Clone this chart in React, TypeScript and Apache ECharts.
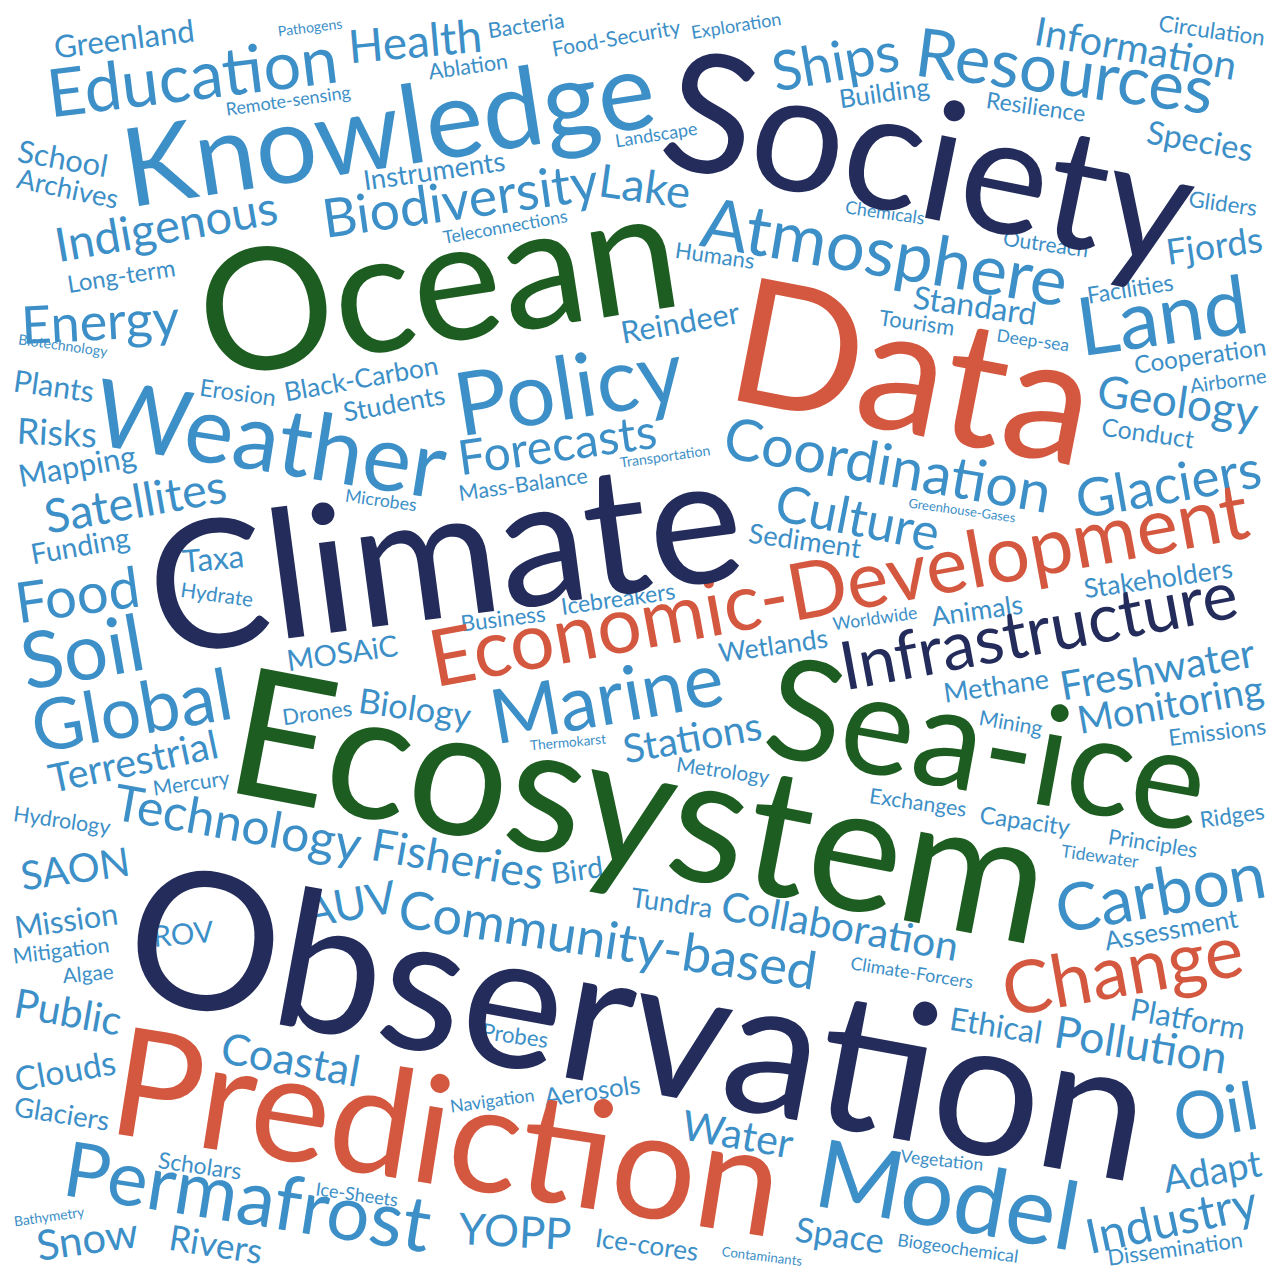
import React, { useEffect, useRef } from "react";
import * as echarts from "echarts";

// [word, centre x, centre y, word length along baseline, angle in degrees (counter-clockwise)]
type Row = [string, number, number, number, number];

const navyWords: Row[] = [
  ["Society", 930, 153, 535, -11.5],
  ["Climate", 444, 548, 597, 7.6],
  ["Observation", 640, 1016, 1035, -10.5],
  ["Infrastructure", 1038, 628, 403, 10.6],
];

const greenWords: Row[] = [
  ["Ocean", 437, 277, 483, 8.8],
  ["Ecosystem", 641, 800, 829, -10.8],
  ["Sea-ice", 988, 740, 445, -10.3],
];

const redWords: Row[] = [
  ["Data", 914, 366, 365, -11],
  ["Economic-Development", 838, 582, 831, 10.4],
  ["Prediction", 448, 1127, 676, -9],
  ["Change", 1122, 968, 243, 10],
];

const blueWords: Row[] = [
  ["Knowledge", 388, 125, 537, 8.8],
  ["Education", 192, 74, 292, 7],
  ["Health", 415, 40, 134, 5],
  ["Resources", 1065, 69, 300, -7.5],
  ["Information", 1136, 47, 204, -10],
  ["Ships", 835, 60, 128, 10],
  ["Atmosphere", 885, 250, 370, -9.5],
  ["Land", 1162, 313, 172, 8],
  ["Policy", 568, 385, 230, 9],
  ["Weather", 271, 436, 354, -9],
  ["Forecasts", 557, 443, 200, 8],
  ["Coordination", 888, 463, 331, -9.8],
  ["Culture", 858, 516, 166, -11],
  ["Geology", 1178, 400, 162, -8],
  ["Glaciers", 1168, 482, 187, 10],
  ["Marine", 606, 695, 235, 10],
  ["Stations", 692, 736, 140, 10],
  ["Freshwater", 1157, 668, 197, 10],
  ["Monitoring", 1170, 703, 188, 10],
  ["Carbon", 1160, 890, 212, 10],
  ["Pollution", 1141, 1043, 174, -9],
  ["Oil", 1215, 1110, 84, 10],
  ["Adapt", 1212, 1170, 99, 10],
  ["Industry", 1171, 1218, 174, 12],
  ["Model", 948, 1192, 265, -10],
  ["Permafrost", 248, 1194, 370, -9],
  ["Coastal", 291, 1058, 140, -10],
  ["Technology", 238, 822, 250, -10],
  ["Fisheries", 458, 858, 174, -10],
  ["Community-based", 608, 938, 422, -8.6],
  ["Collaboration", 840, 925, 240, -10],
  ["Global", 131, 708, 202, 10],
  ["Soil", 82, 650, 124, 10],
  ["Food", 77, 593, 125, 8],
  ["Terrestrial", 133, 760, 172, 12],
  ["Satellites", 135, 500, 184, 10],
  ["Indigenous", 166, 225, 225, 10],
  ["Biodiversity", 460, 198, 278, 8],
  ["Energy", 100, 320, 158, 3],
  ["Lake", 645, 185, 92, -8],
  ["Standard", 975, 305, 124, -8],
  ["Species", 1200, 140, 107, -10],
  ["Fjords", 1214, 245, 97, 8],
  ["SAON", 75, 868, 110, 8],
  ["Water", 738, 1133, 112, -10],
  ["YOPP", 515, 1230, 113, -3],
  ["Snow", 87, 1238, 102, 8],
  ["Public", 68, 1011, 108, -10],
  ["Clouds", 65, 1070, 102, 10],
  ["Mission", 66, 920, 104, 8],
  ["AUV", 350, 903, 93, 10],
  ["MOSAiC", 342, 652, 112, 8],
  ["Biology", 415, 707, 113, -8],
  ["Mapping", 77, 465, 119, 10],
  ["Risks", 57, 432, 80, -3],
  ["Plants", 54, 385, 81, -8],
  ["Funding", 80, 545, 100, 10],
  ["Taxa", 213, 558, 62, 5],
  ["Greenland", 124, 38, 141, 7],
  ["School", 63, 158, 91, -10],
  ["Archives", 68, 188, 103, -12],
  ["Long-term", 121, 275, 109, 9],
  ["Instruments", 434, 170, 143, 8],
  ["Reindeer", 680, 322, 120, 10],
  ["Black-Carbon", 361, 378, 156, 10],
  ["Students", 394, 403, 103, 10],
  ["Erosion", 238, 392, 77, -8],
  ["Microbes", 381, 500, 72, -8],
  ["Hydrate", 217, 594, 73, -8],
  ["Mass-Balance", 523, 484, 130, 8],
  ["Transportation", 665, 456, 91, 8],
  ["Business", 503, 618, 85, 7],
  ["Icebreakers", 618, 598, 115, 8],
  ["Sediment", 805, 540, 113, -8],
  ["Greenhouse-Gases", 962, 510, 108, -8],
  ["Tourism", 917, 322, 76, -8],
  ["Deep-sea", 1033, 340, 73, -8],
  ["Cooperation", 1200, 355, 133, 8],
  ["Airborne", 1228, 380, 77, 8],
  ["Conduct", 1148, 432, 93, -8],
  ["Stakeholders", 1158, 578, 150, 8],
  ["Animals", 977, 610, 92, 8],
  ["Worldwide", 875, 618, 85, 8],
  ["Wetlands", 773, 645, 110, 8],
  ["Thermokarst", 568, 742, 76, 5],
  ["Metrology", 723, 770, 94, -8],
  ["Methane", 996, 685, 106, 8],
  ["Mining", 1011, 722, 64, -10],
  ["Emissions", 1217, 731, 98, 7],
  ["Exchanges", 918, 802, 98, -8],
  ["Capacity", 1025, 820, 91, -8],
  ["Ridges", 1232, 815, 65, 8],
  ["Principles", 1153, 843, 90, -9],
  ["Tidewater", 1100, 856, 78, -8],
  ["Assessment", 1171, 929, 135, 10],
  ["Platform", 1188, 1018, 116, -10],
  ["Ethical", 996, 1025, 93, -9],
  ["Climate-Forcers", 912, 972, 124, -9],
  ["Dissemination", 1175, 1248, 136, 8],
  ["Vegetation", 942, 1160, 83, -6],
  ["Space", 840, 1234, 89, -8],
  ["Biogeochemical", 958, 1248, 122, -8],
  ["Contaminants", 762, 1256, 81, -7],
  ["Ice-cores", 647, 1244, 104, -8],
  ["Aerosols", 592, 1090, 97, 8],
  ["Navigation", 492, 1100, 85, 8],
  ["Probes", 515, 1035, 67, -8],
  ["Scholars", 200, 1165, 84, -8],
  ["Ice-Sheets", 357, 1194, 83, -8],
  ["Bathymetry", 49, 1216, 71, 8],
  ["Rivers", 216, 1243, 94, -9],
  ["Glaciers", 62, 1113, 96, -9],
  ["Algae", 88, 973, 51, 5],
  ["Mitigation", 61, 950, 97, 7],
  ["ROV", 183, 933, 61, 5],
  ["Hydrology", 62, 820, 98, -8],
  ["Mercury", 191, 782, 77, 8],
  ["Drones", 317, 712, 70, 8],
  ["Bird", 577, 869, 52, 8],
  ["Tundra", 672, 902, 82, -8],
  ["Humans", 715, 255, 80, -8],
  ["Chemicals", 885, 212, 80, -8],
  ["Outreach", 1046, 243, 86, -8],
  ["Facilities", 1130, 288, 87, 9],
  ["Gliders", 1223, 203, 69, -8],
  ["Circulation", 1212, 30, 107, -8],
  ["Resilience", 1036, 106, 100, -8],
  ["Building", 884, 92, 91, 8],
  ["Exploration", 736, 25, 91, 9],
  ["Food-Security", 616, 37, 130, 10],
  ["Bacteria", 526, 25, 77, 8],
  ["Ablation", 468, 66, 80, 8],
  ["Landscape", 656, 134, 83, 9],
  ["Teleconnections", 505, 226, 126, 10],
  ["Pathogens", 310, 27, 65, 7],
  ["Remote-sensing", 288, 100, 126, 8],
  ["Biotechnology", 63, 345, 90, -8],
];

const palette = {
  navy: "#232c5b",
  green: "#1e5d21",
  red: "#d4583f",
  blue: "#3d8fc7",
};

const FONT = "Lato";
const W = 1284;
const H = 1273;

export default function App() {
  const ref = useRef<HTMLDivElement>(null);

  useEffect(() => {
    document.body.style.margin = "0";
    const chart = echarts.init(ref.current!, null, { renderer: "svg" });
    const canvas = document.createElement("canvas");
    const ctx = canvas.getContext("2d")!;
    ctx.font = `100px ${FONT}`;

    const groups = [
      { name: "blue", rows: blueWords, color: palette.blue },
      { name: "red", rows: redWords, color: palette.red },
      { name: "green", rows: greenWords, color: palette.green },
      { name: "navy", rows: navyWords, color: palette.navy },
    ];

    const series = groups.map((g) => ({
      type: "custom",
      name: g.name,
      coordinateSystem: "cartesian2d",
      silent: true,
      data: g.rows.map((r) => ({ name: r[0], value: [r[1], r[2], r[3], r[4]] })),
      renderItem: (params: any, api: any) => {
        const row = g.rows[params.dataIndex];
        const p = api.coord([api.value(0), api.value(1)]);
        const size = (api.value(2) / ctx.measureText(row[0]).width) * 100;
        return {
          type: "text",
          x: p[0],
          y: p[1],
          rotation: (api.value(3) * Math.PI) / 180,
          style: {
            text: row[0],
            fontSize: size,
            fontFamily: FONT,
            fill: g.color,
            align: "center",
            verticalAlign: "middle",
          },
        };
      },
    }));

    chart.setOption({
      animation: false,
      backgroundColor: "#ffffff",
      grid: { left: 0, right: 0, top: 0, bottom: 0 },
      xAxis: { type: "value", min: 0, max: W, show: false },
      yAxis: { type: "value", min: 0, max: H, inverse: true, show: false },
      series,
    });
    return () => chart.dispose();
  }, []);

  return <div ref={ref} style={{ width: W, height: H }} />;
}
